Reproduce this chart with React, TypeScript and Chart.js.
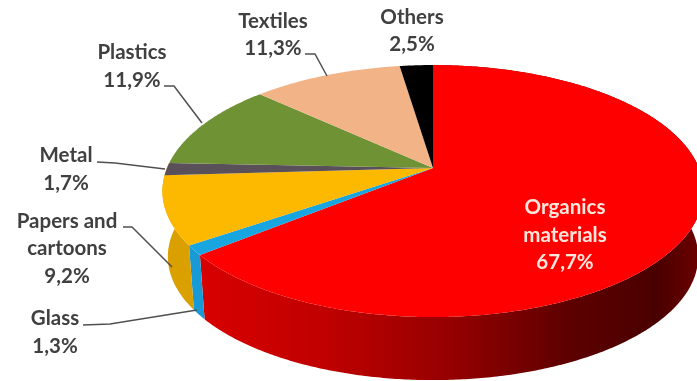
import React, { useEffect, useRef } from "react";
import { Chart, registerables } from "chart.js";

Chart.register(...registerables);

// Waste composition, clockwise from twelve o'clock.
const categories = ["Organics materials", "Glass", "Papers and cartoons", "Metal", "Plastics", "Textiles", "Others"];
const shares = [67.7, 1.3, 9.2, 1.7, 11.9, 11.3, 2.5];
const shareLabels = ["67,7%", "1,3%", "9,2%", "1,7%", "11,9%", "11,3%", "2,5%"];

const faceColors = ["#ff0000", "#18a5e0", "#fdb900", "#59505a", "#6f9234", "#f2b487", "#000000"];
const wallColors = ["#a00000", "#189ad6", "#d9a000"];

// Perspective disc: apex position, radii and foreshortening of the tilted pie.
const apexX = 433;
const apexY = 168;
const radiusX = 266;
const radiusY = 121.8;
const tilt = 0.183;
// The lower rim sits further from the viewer, so it shrinks slightly towards the axis.
const lowerScale = 0.98;
const lowerApexY = 234;

const project = (angle: number): [number, number] => {
  const u = Math.cos(angle);
  const v = Math.sin(angle);
  const w = 1 - tilt * v;
  return [apexX + (radiusX * u) / w, apexY + (radiusY * v) / w];
};

const projectLower = (angle: number): [number, number] => {
  const [x, y] = project(angle);
  return [apexX + (x - apexX) * lowerScale, lowerApexY + (y - apexY) * lowerScale];
};

type Callout = { lines: string[]; x: number; y: number[]; color: string; leader?: [number, number][] };

const callouts: Callout[] = [
  { lines: ["Organics", "materials", shareLabels[0]], x: 565, y: [207, 235, 262], color: "#fde6dc" },
  { lines: ["Glass", shareLabels[1]], x: 55, y: [318, 346], color: "#404040", leader: [[83, 325], [110, 324], [197, 310]] },
  { lines: ["Papers and", "cartoons", shareLabels[2]], x: 67, y: [221, 248, 276], color: "#404040", leader: [[123, 227], [132, 227], [172, 267]] },
  { lines: ["Metal", shareLabels[3]], x: 66, y: [155, 183], color: "#404040", leader: [[97, 162], [115, 163], [165, 169]] },
  { lines: ["Plastics", shareLabels[4]], x: 132, y: [52, 80], color: "#404040", leader: [[164, 86], [174, 86], [202, 123]] },
  { lines: ["Textiles", shareLabels[5]], x: 273, y: [21, 48], color: "#404040", leader: [[305, 54], [315, 54], [327, 76]] },
  { lines: ["Others", shareLabels[6]], x: 412, y: [17, 44], color: "#404040" },
];

const tracePath = (ctx: CanvasRenderingContext2D, start: number, end: number, at: (a: number) => [number, number], first: boolean) => {
  const steps = Math.max(2, Math.ceil(Math.abs(end - start) / 0.01));
  for (let i = 0; i <= steps; i++) {
    const [x, y] = at(start + ((end - start) * i) / steps);
    if (first && i === 0) ctx.moveTo(x, y);
    else ctx.lineTo(x, y);
  }
};

// Replaces the flat arcs with a tilted, extruded disc using the angles the pie controller computed.
const tiltedPie = {
  id: "tiltedPie",
  beforeDatasetDraw(chart: Chart) {
    const ctx = chart.ctx;
    const arcs = chart.getDatasetMeta(0).data as any[];
    const angles = arcs.map((arc) => arc.getProps(["startAngle", "endAngle"], true));
    ctx.save();
    // Only the three front slices show a wall; the papers wall wraps round the left silhouette.
    wallColors.forEach((color, i) => {
      const start = angles[i].startAngle;
      const end = i === 2 ? angles[3].endAngle : angles[i].endAngle;
      ctx.beginPath();
      tracePath(ctx, start, end, project, true);
      tracePath(ctx, end, start, projectLower, false);
      ctx.closePath();
      if (i === 0) {
        const g = ctx.createLinearGradient(200, 0, 697, 0);
        g.addColorStop(0, "#d80000");
        g.addColorStop(0.25, "#c00000");
        g.addColorStop(0.5, "#960000");
        g.addColorStop(0.75, "#5c0000");
        g.addColorStop(0.92, "#4a0000");
        g.addColorStop(1, "#6a0000");
        ctx.fillStyle = g;
      } else {
        ctx.fillStyle = color;
      }
      ctx.fill();
    });
    angles.forEach(({ startAngle, endAngle }, i) => {
      ctx.beginPath();
      ctx.moveTo(apexX, apexY);
      tracePath(ctx, startAngle, endAngle, project, false);
      ctx.closePath();
      ctx.fillStyle = faceColors[i];
      ctx.fill();
    });
    ctx.restore();
    return false;
  },
  afterDraw(chart: Chart) {
    const ctx = chart.ctx;
    ctx.save();
    ctx.textAlign = "center";
    ctx.textBaseline = "middle";
    ctx.font = "bold 20.5px Lato";
    callouts.forEach((c) => {
      if (c.leader) {
        ctx.beginPath();
        c.leader.forEach(([x, y], i) => (i === 0 ? ctx.moveTo(x, y) : ctx.lineTo(x, y)));
        ctx.strokeStyle = "#505050";
        ctx.lineWidth = 1.5;
        ctx.stroke();
      }
      ctx.fillStyle = c.color;
      c.lines.forEach((line, i) => ctx.fillText(line, c.x, c.y[i]));
    });
    ctx.restore();
  },
};

export default function App() {
  const ref = useRef<HTMLCanvasElement>(null);
  useEffect(() => {
    document.body.style.margin = "0";
    const chart = new Chart(ref.current!, {
      type: "pie",
      data: {
        labels: categories,
        datasets: [{ data: shares, backgroundColor: faceColors, borderWidth: 0 }],
      },
      options: {
        animation: false,
        responsive: false,
        plugins: { legend: { display: false }, tooltip: { enabled: false } },
      },
      plugins: [tiltedPie],
    });
    return () => chart.destroy();
  }, []);
  return <canvas ref={ref} width={697} height={381} style={{ display: "block" }} />;
}
